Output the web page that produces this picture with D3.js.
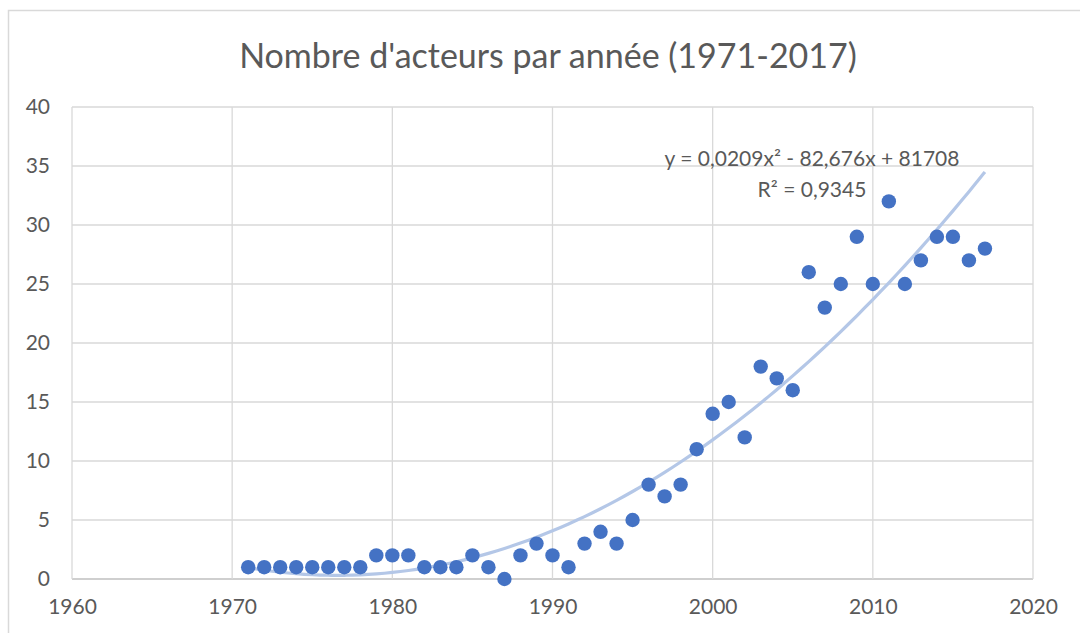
<!DOCTYPE html>
<html>
<head>
<meta charset="utf-8">
<script src="https://cdn.jsdelivr.net/npm/d3@7"></script>
<style>
  body { margin: 0; background: #fff; }
  svg text { font-family: Lato, "Open Sans", sans-serif; fill: #595959; }
</style>
</head>
<body>
<svg id="chart" width="1080" height="633"></svg>
<script>
// years and number of actors
var years = [1971,1972,1973,1974,1975,1976,1977,1978,1979,1980,
             1981,1982,1983,1984,1985,1986,1987,1988,1989,1990,
             1991,1992,1993,1994,1995,1996,1997,1998,1999,2000,
             2001,2002,2003,2004,2005,2006,2007,2008,2009,2010,
             2011,2012,2013,2014,2015,2016,2017];
var actors = [1,1,1,1,1,1,1,1,2,2,
              2,1,1,1,2,1,0,2,3,2,
              1,3,4,3,5,8,7,8,11,14,
              15,12,18,17,16,26,23,25,29,25,
              32,25,27,29,29,27,28];
var xTicks = [1960,1970,1980,1990,2000,2010,2020];
var yTicks = [0,5,10,15,20,25,30,35,40];
var title = "Nombre d'acteurs par année (1971-2017)";
var eqLines = ["y = 0,0209x² - 82,676x + 81708", "R² = 0,9345"];

var svg = d3.select("#chart");
var pLeft = 72, pRight = 1033, pTop = 107, pBottom = 579;

var x = d3.scaleLinear().domain([1960, 2020]).range([pLeft, pRight]);
var y = d3.scaleLinear().domain([0, 40]).range([pBottom, pTop]);

// outer chart border
svg.append("rect").attr("x", 8.5).attr("y", 10.5).attr("width", 1100).attr("height", 700)
  .attr("fill", "none").attr("stroke", "#d9d9d9").attr("stroke-width", 1.5);

// title
svg.append("text").attr("x", 548).attr("y", 68).attr("text-anchor", "middle")
  .style("font-size", "34px").text(title);

// grid
svg.append("g").selectAll("line").data(yTicks).enter().append("line")
  .attr("x1", pLeft).attr("x2", pRight).attr("y1", function(d){ return y(d); }).attr("y2", function(d){ return y(d); })
  .attr("stroke", function(d){ return d == 0 ? "#bfbfbf" : "#d9d9d9"; }).attr("stroke-width", 1.3);
svg.append("g").selectAll("line").data(xTicks).enter().append("line")
  .attr("y1", pTop).attr("y2", pBottom).attr("x1", function(d){ return x(d); }).attr("x2", function(d){ return x(d); })
  .attr("stroke", "#d9d9d9").attr("stroke-width", 1.3);

// axes labels
var yAxis = svg.append("g").attr("transform", "translate(" + pLeft + ",0)")
  .call(d3.axisLeft(y).tickValues(yTicks).tickSize(0).tickPadding(22));
var xAxis = svg.append("g").attr("transform", "translate(0," + pBottom + ")")
  .call(d3.axisBottom(x).tickValues(xTicks).tickSize(0).tickPadding(20).tickFormat(d3.format("d")));
[yAxis, xAxis].forEach(function(a){
  a.select(".domain").remove();
  a.selectAll("text").style("font-size", "21px").style("font-family", "Lato, 'Open Sans', sans-serif").attr("fill", "#595959");
});

// quadratic trend fitted on the data (centered years for precision)
var mx = d3.mean(years);
var S = [0,0,0,0,0], T = [0,0,0];
years.forEach(function(yr, i){
  var t = yr - mx, p = 1;
  for (var k = 0; k < 5; k++){ S[k] += p; if (k < 3) T[k] += p * actors[i]; p *= t; }
});
// solve 3x3 normal equations
var A = [[S[0],S[1],S[2],T[0]],[S[1],S[2],S[3],T[1]],[S[2],S[3],S[4],T[2]]];
for (var i = 0; i < 3; i++){
  for (var j = i + 1; j < 3; j++){
    var f = A[j][i] / A[i][i];
    for (var k = i; k < 4; k++) A[j][k] -= f * A[i][k];
  }
}
var c = [0,0,0];
for (var i = 2; i >= 0; i--){
  var s = A[i][3];
  for (var k = i + 1; k < 3; k++) s -= A[i][k] * c[k];
  c[i] = s / A[i][i];
}
var fit = function(yr){ var t = yr - mx; return c[0] + c[1]*t + c[2]*t*t; };
var trendX = d3.range(years[0], years[years.length-1] + 0.01, 0.5);

svg.append("path").datum(trendX)
  .attr("d", d3.line().x(function(d){ return x(d); }).y(function(d){ return y(fit(d)); }).curve(d3.curveBasis))
  .attr("fill", "none").attr("stroke", "#b4c7e7").attr("stroke-width", 3.2);

// points
svg.append("g").selectAll("circle").data(years).enter().append("circle")
  .attr("cx", function(d){ return x(d); }).attr("cy", function(d, i){ return y(actors[i]); })
  .attr("r", 7.2).attr("fill", "#4472c4");

// trend equation
svg.append("g").selectAll("text").data(eqLines).enter().append("text")
  .attr("x", 812).attr("y", function(d, i){ return 166 + i * 31; })
  .attr("text-anchor", "middle").style("font-size", "21px").text(function(d){ return d; });
</script>
</body>
</html>
